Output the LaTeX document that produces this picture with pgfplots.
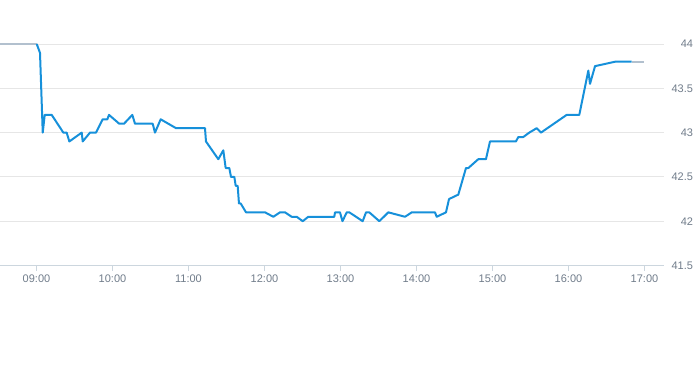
\documentclass[border=0pt]{standalone}
\usepackage{fontspec}
\setmainfont{Liberation Sans}
\usepackage{pgfplots}
\pgfplotsset{compat=1.18}
\definecolor{lineblue}{RGB}{22,144,218}
\definecolor{linegray}{RGB}{178,192,206}
\definecolor{gridgray}{RGB}{230,230,230}
\definecolor{axisgray}{RGB}{204,214,222}
\definecolor{labelgray}{RGB}{112,124,138}
\begin{document}
\begin{tikzpicture}[x=0.75pt,y=0.75pt]
\useasboundingbox (0,-99.5) rectangle (693,265.5);
\begin{axis}[
  at={(0,0)}, anchor=south west,
  scale only axis, width=498pt, height=166.125pt,
  xmin=8.5197, xmax=17.2566, ymin=41.5, ymax=44,
  clip=false,
  axis x line*=bottom, axis y line*=right,
  x axis line style={draw=axisgray, line width=0.75pt},
  y axis line style={draw=none},
  ymajorgrids, grid style={draw=gridgray, line width=0.75pt},
  tick align=outside, major tick length=3.75pt,
  xtick style={draw=axisgray, line width=0.75pt},
  ytick style={draw=none},
  xtick={9,10,11,12,13,14,15,16,17},
  xticklabels={09:00,10:00,11:00,12:00,13:00,14:00,15:00,16:00,17:00},
  ytick={41.5,42,42.5,43,43.5,44},
  yticklabels={41.5,42,42.5,43,43.5,44},
  xticklabel style={font=\fontsize{8.25}{10}\selectfont, text=labelgray},
  yticklabel style={font=\fontsize{8.25}{10}\selectfont, text=labelgray, anchor=east, inner sep=0pt, xshift=18.2pt},
]
\addplot[linegray, line width=1.5pt] coordinates {(8.5197,44) (9.003,44)};
\addplot[linegray, line width=1.5pt] coordinates {(16.832,43.8) (17.0,43.8)};
\addplot[lineblue, line width=1.5pt, line join=round] coordinates {
(9.003,44) (9.046,43.9) (9.082,43.0) (9.108,43.2) (9.2,43.2)
(9.353,43.0) (9.397,43.0) (9.432,42.9) (9.595,43.0) (9.608,42.9)
(9.704,43.0) (9.783,43.0) (9.871,43.15) (9.932,43.15) (9.954,43.2)
(10.089,43.1) (10.151,43.1) (10.261,43.2) (10.296,43.1) (10.529,43.1)
(10.559,43.0) (10.634,43.15) (10.836,43.05) (11.217,43.05) (11.230,42.9)
(11.392,42.7) (11.458,42.8) (11.489,42.6) (11.537,42.6) (11.559,42.5)
(11.603,42.5) (11.621,42.4) (11.647,42.4) (11.664,42.2) (11.687,42.2)
(11.757,42.1) (12.007,42.1) (12.116,42.05) (12.204,42.1) (12.270,42.1)
(12.358,42.05) (12.424,42.05) (12.503,42.0) (12.576,42.05) (12.918,42.05)
(12.928,42.1) (12.993,42.1) (13.026,42.0) (13.082,42.1) (13.116,42.1)
(13.292,42.0) (13.336,42.1) (13.379,42.1) (13.511,42.0) (13.629,42.1)
(13.849,42.05) (13.937,42.1) (14.243,42.1) (14.266,42.05) (14.388,42.1)
(14.428,42.25) (14.550,42.3) (14.651,42.6) (14.682,42.6) (14.813,42.7)
(14.914,42.7) (14.967,42.9) (15.309,42.9) (15.339,42.95) (15.405,42.95)
(15.484,43.0) (15.582,43.05) (15.638,43.0) (15.976,43.2) (16.142,43.2)
(16.261,43.7) (16.283,43.55) (16.349,43.75) (16.612,43.8) (16.832,43.8)
};
\end{axis}
\end{tikzpicture}
\end{document}
